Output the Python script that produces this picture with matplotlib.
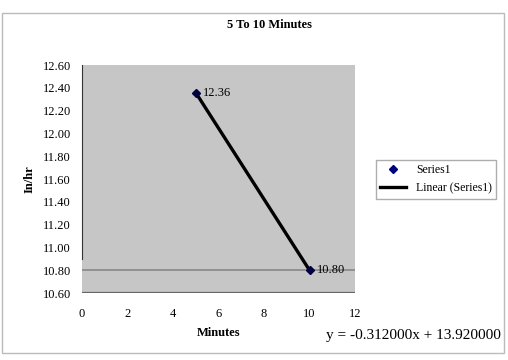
import matplotlib
matplotlib.use("Agg")
import matplotlib.pyplot as plt
import numpy as np

plt.rcParams['font.family'] = ['Liberation Serif', 'DejaVu Serif']

minutes = [5, 10]
rates = [12.36, 10.80]
slope = -0.312
intercept = 13.92
x_ticks = [0, 2, 4, 6, 8, 10, 12]
y_ticks = [10.60, 10.80, 11.00, 11.20, 11.40, 11.60, 11.80, 12.00, 12.20, 12.40, 12.60]

fig = plt.figure(figsize=(5.08, 3.6), dpi=100)
fig.patch.set_facecolor('white')
# outer frame
fig.add_artist(plt.Rectangle((0.004, 0.02), 0.988, 0.943, transform=fig.transFigure,
                             fill=False, edgecolor='#bbbbbb', lw=1.0))

ax = fig.add_axes([0.161, 0.186, 0.538, 0.633])
ax.set_facecolor('#c6c6c6')
ax.set_xlim(0, 12)
ax.set_ylim(10.60, 12.60)
ax.set_xticks(x_ticks)
ax.set_yticks(y_ticks)
ax.set_xticklabels([str(t) for t in x_ticks], fontsize=9)
ax.set_yticklabels([f"{t:.2f}" for t in y_ticks], fontsize=9)
ax.tick_params(axis='x', length=0, pad=11)
ax.tick_params(axis='y', length=0, pad=8)
for s in ['top', 'right', 'bottom']:
    ax.spines[s].set_visible(False)
ax.spines['left'].set_color('#333333')
ax.spines['left'].set_bounds(10.9, 12.6)

ax.axhline(10.80, color='#888888', lw=1.2)
ax.axhline(10.60, color='#666666', lw=1.6)

xs = np.array(minutes, dtype=float)
ax.plot(xs, slope * xs + intercept, color='black', lw=2.4, label='Linear (Series1)')
ax.plot(minutes, rates, 'D', color='#000040', ms=4, ls='none', label='Series1')
for x, y in zip(minutes, rates):
    ax.annotate(f"{y:.2f}", (x, y), xytext=(5, 0), textcoords='offset points',
                va='center', ha='left', fontsize=9)

ax.set_xlabel('Minutes', fontsize=9, fontweight='bold', labelpad=5)
ax.set_ylabel('In/hr', fontsize=9, fontweight='bold', labelpad=5)
fig.text(0.53, 0.93, '5 To 10 Minutes', ha='center', va='center', fontsize=9, fontweight='bold')

handles, labels = ax.get_legend_handles_labels()
leg = fig.legend([handles[1], handles[0]], [labels[1], labels[0]],
                 loc='center left', bbox_to_anchor=(0.728, 0.502), fontsize=8.5,
                 frameon=True, fancybox=False, edgecolor='#999999',
                 handlelength=2.2, borderpad=0.4, labelspacing=0.5)
leg.legend_handles[0].set_color('#000080')

fig.text(0.985, 0.067, 'y = -0.312000x + 13.920000', ha='right', va='center', fontsize=11)

fig.savefig('out.png', dpi=100)
